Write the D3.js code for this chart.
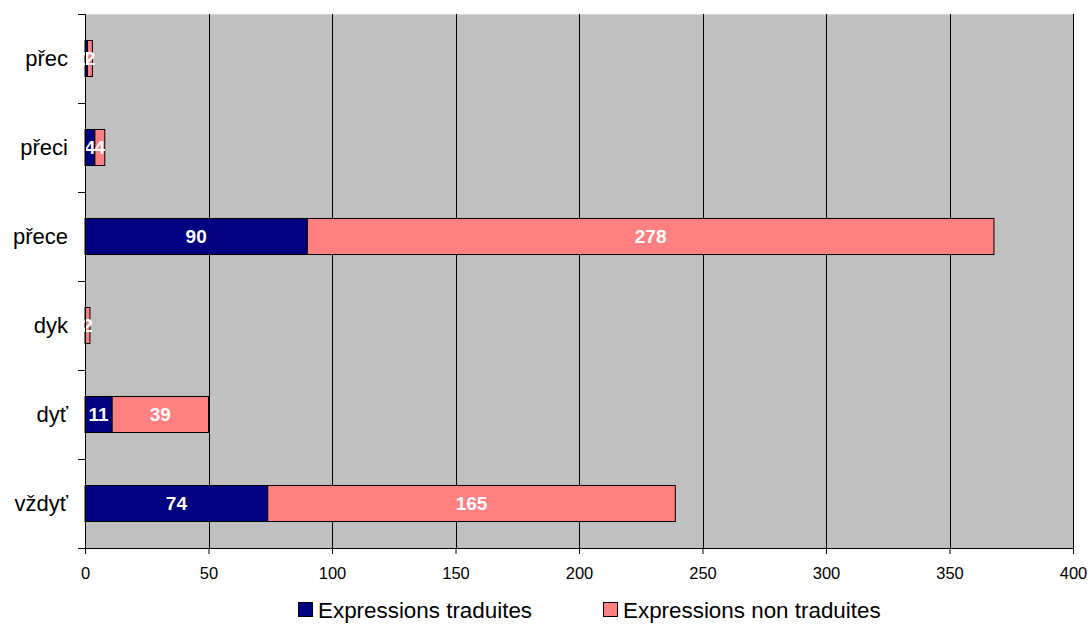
<!DOCTYPE html>
<html><head><meta charset="utf-8">
<script src="https://cdn.jsdelivr.net/npm/d3@7"></script>
<style>body{margin:0;background:#fff;}svg{display:block;font-family:"Liberation Sans",Arial,sans-serif;}</style>
</head><body><svg id="c" width="1090" height="625"></svg>
<script>
const categories = ["přec","přeci","přece","dyk","dyť","vždyť"];
const translated = [1,4,90,0,11,74];
const untranslated = [2,4,278,2,39,165];
const seriesNames = ["Expressions traduites","Expressions non traduites"];
const xTicks = [0,50,100,150,200,250,300,350,400];
const colors = ["#000080","#FF8080"];

const svg = d3.select("#c");
const m = {l:85, r:1073, t:14, b:548};
const x = d3.scaleLinear().domain([0,400]).range([m.l,m.r]);
const y = d3.scaleBand().domain(categories).range([m.t,m.b]).paddingInner(0.595).paddingOuter(0.2975);
const yb = d3.scaleBand().domain(categories).range([m.t,m.b]);

svg.append("rect").attr("x",m.l).attr("y",m.t).attr("width",m.r-m.l).attr("height",m.b-m.t).attr("fill","#C0C0C0");
svg.append("line").attr("x1",m.l).attr("x2",m.r).attr("y1",m.t+0.5).attr("y2",m.t+0.5).attr("stroke","#d8d8d8");
svg.append("line").attr("x1",m.r+0.5).attr("x2",m.r+0.5).attr("y1",m.t).attr("y2",m.b).attr("stroke","#a8a8a8");
// gridlines
svg.append("g").selectAll("line").data(xTicks.slice(1)).join("line")
  .attr("x1",d=>Math.round(x(d))+0.5).attr("x2",d=>Math.round(x(d))+0.5)
  .attr("y1",m.t).attr("y2",m.b).attr("stroke","#000").attr("stroke-width",1);

const stack = categories.map((c,i)=>({c, segs:[{s:0,v:translated[i],x0:0},{s:1,v:untranslated[i],x0:translated[i]}]}));
const g = svg.append("g");
stack.forEach(d=>{
  d.segs.forEach(s=>{
    if(s.v<=0) return;
    g.append("rect").attr("x",x(s.x0)).attr("y",y(d.c)).attr("width",x(s.x0+s.v)-x(s.x0)).attr("height",y.bandwidth())
      .attr("fill",colors[s.s]).attr("stroke","#000").attr("stroke-width",1);
  });
  d.segs.forEach(s=>{
    if(s.v<=0) return;
    g.append("text").attr("x",(x(s.x0)+x(s.x0+s.v))/2).attr("y",y(d.c)+y.bandwidth()/2).attr("dy","0.36em")
      .attr("text-anchor","middle").attr("fill","#fff").attr("font-weight","bold").attr("font-size",19).text(s.v);
  });
});

// axes
const xAxis = d3.axisBottom(x).tickValues(xTicks).tickSize(6).tickPadding(13).tickSizeOuter(0);
const ax = svg.append("g").attr("transform",`translate(0,${m.b})`).call(xAxis);
ax.select(".domain").attr("d",`M${m.l-7},0.5H${m.r}`).attr("stroke","#000");
ax.selectAll("text").attr("font-size",16.5).attr("fill","#000").attr("font-family","Liberation Sans, Arial, sans-serif");

const yAxisG = svg.append("g");
yAxisG.append("line").attr("x1",m.l+0.5).attr("x2",m.l+0.5).attr("y1",m.t).attr("y2",m.b).attr("stroke","#000");
const bounds = categories.map(c=>yb(c));
yAxisG.selectAll("line.t").data(bounds).join("line").attr("class","t")
  .attr("x1",m.l-7).attr("x2",m.l).attr("y1",d=>Math.round(d)+0.5).attr("y2",d=>Math.round(d)+0.5).attr("stroke","#000");
yAxisG.selectAll("text").data(categories).join("text")
  .attr("x",m.l-17).attr("y",d=>yb(d)+yb.bandwidth()/2).attr("dy","0.36em").attr("text-anchor","end")
  .attr("font-size",22).attr("fill","#000").text(d=>d);

// legend
const leg = svg.append("g");
const lx = [298,603];
seriesNames.forEach((n,i)=>{
  leg.append("rect").attr("x",lx[i]+0.5).attr("y",602.5).attr("width",14).attr("height",14).attr("fill",colors[i]).attr("stroke","#000");
  leg.append("text").attr("x",lx[i]+20).attr("y",610).attr("dy","0.36em").attr("font-size",22.4).attr("fill","#000").text(n);
});
</script></body></html>
